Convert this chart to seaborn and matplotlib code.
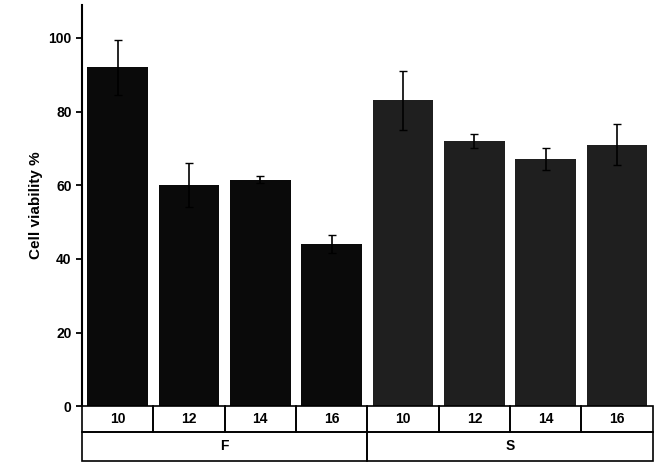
import matplotlib
matplotlib.use("Agg")
import matplotlib.pyplot as plt
import seaborn as sns
import pandas as pd
import numpy as np

groups = ["F", "F", "F", "F", "S", "S", "S", "S"]
sizes = ["10", "12", "14", "16", "10", "12", "14", "16"]
viability = [92, 60, 61.5, 44, 83, 72, 67, 71]
errors = [7.5, 6, 1, 2.5, 8, 2, 3, 5.5]
yticks = [0, 20, 40, 60, 80, 100]

df = pd.DataFrame({"pos": [str(i) for i in range(8)], "group": groups, "size": sizes, "v": viability})

fig = plt.figure(figsize=(6.56, 4.67), dpi=100)
ax = fig.add_axes([0.125, 0.13, 0.87, 0.86])
sns.barplot(data=df, x="pos", y="v", hue="group", palette={"F": "#0a0a0a", "S": "#1f1f1f"},
            width=0.85, dodge=False, legend=False, ax=ax, edgecolor="none")
ax.errorbar(np.arange(8), viability, yerr=errors, fmt="none", ecolor="black", elinewidth=1.2, capsize=3)
ax.set_xlim(-0.5, 7.5)
ax.set_ylim(0, 109)
ax.set_yticks(yticks)
ax.set_xticks([])
ax.set_xlabel("")
ax.set_ylabel("Cell viability %", fontsize=11, fontweight="bold", family="Liberation Sans")
for t in ax.get_yticklabels():
    t.set_fontweight("bold"); t.set_fontfamily("Liberation Sans"); t.set_fontsize(10)
ax.tick_params(axis="y", width=1.3, length=4)
ax.spines["top"].set_visible(False)
ax.spines["right"].set_visible(False)
ax.spines["bottom"].set_visible(False)
ax.spines["left"].set_linewidth(1.5)

# table below axis
h1, h2 = 0.065, 0.07
trans = ax.get_xaxis_transform()
for i, s in enumerate(sizes):
    ax.add_patch(plt.Rectangle((i - 0.5, -h1), 1, h1, transform=trans, clip_on=False,
                               fill=False, lw=1.2, ec="black"))
    ax.text(i, -h1 / 2, s, transform=trans, ha="center", va="center", fontsize=10,
            fontweight="bold", family="Liberation Sans")
for j, g in enumerate(["F", "S"]):
    ax.add_patch(plt.Rectangle((j * 4 - 0.5, -h1 - h2), 4, h2, transform=trans, clip_on=False,
                               fill=False, lw=1.2, ec="black"))
    ax.text(j * 4 + 1.5, -h1 - h2 / 2, g, transform=trans, ha="center", va="center", fontsize=10,
            fontweight="bold", family="Liberation Sans")
fig.savefig("out.png", dpi=100)
